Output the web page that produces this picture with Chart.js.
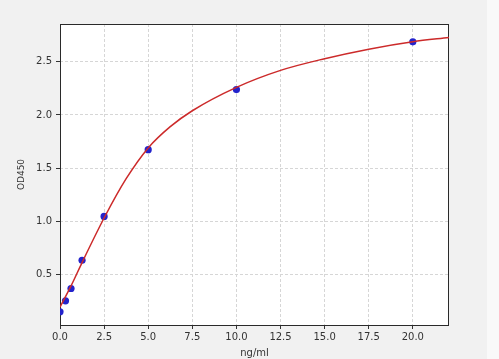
<!DOCTYPE html>
<html>
<head>
<meta charset="utf-8">
<script src="https://cdn.jsdelivr.net/npm/chart.js@4"></script>
<style>
    body { margin: 0; background: #f1f1f1; }
    canvas { display: block; }
</style>
</head>
<body>
<canvas id="curve-chart" width="499" height="359"></canvas>
<script>
// standard points (ng/ml, OD450)
const concentrations = [0, 0.3125, 0.625, 1.25, 2.5, 5, 10, 20];
const odValues = [0.147, 0.250, 0.366, 0.632, 1.045, 1.673, 2.239, 2.689];

// fitted curve
const curveX = [0, 0.625, 1.25, 2.5, 3.75, 5, 6.25, 7.5, 10, 12.5, 15, 17.5, 20, 22.05];
const curveY = [0.19, 0.39, 0.61, 1.03, 1.40, 1.69, 1.89, 2.04, 2.26, 2.42, 2.53, 2.62, 2.69, 2.73];

const xTicks = [0, 2.5, 5, 7.5, 10, 12.5, 15, 17.5, 20];
const yTicks = [0.5, 1.0, 1.5, 2.0, 2.5];

const FONT = "'DejaVu Sans', sans-serif";

// gray page, white plot box, dark frame
const frame = {
    id: "frame",
    beforeDraw(chart) {
        const ctx = chart.ctx;
        const a = chart.chartArea;
        ctx.save();
        ctx.fillStyle = "#f1f1f1";
        ctx.fillRect(0, 0, chart.width, chart.height);
        ctx.fillStyle = "#f9f9f9";
        ctx.fillRect(487, 0, chart.width - 487, chart.height);
        ctx.fillStyle = "#ffffff";
        ctx.fillRect(a.left, a.top, a.right - a.left, a.bottom - a.top);
        ctx.restore();
    },
    beforeDatasetsDraw(chart) {
        const ctx = chart.ctx;
        const a = chart.chartArea;
        ctx.save();
        ctx.strokeStyle = "#2a2a2a";
        ctx.lineWidth = 1;
        ctx.strokeRect(a.left + 0.5, a.top + 0.5, a.right - a.left - 1, a.bottom - a.top);
        ctx.restore();
    }
};

const points = concentrations.map((x, i) => ({x: x, y: odValues[i]}));
const curve = curveX.map((x, i) => ({x: x, y: curveY[i]}));

new Chart(document.querySelector("#curve-chart"), {
    type: "scatter",
    data: {
        datasets: [
            {
                data: curve,
                showLine: true,
                borderColor: "#cc2a2a",
                borderWidth: 1.5,
                pointRadius: 0,
                cubicInterpolationMode: "monotone",
                order: 0
            },
            {
                data: points,
                backgroundColor: "#2323cc",
                borderColor: "#2323cc",
                pointRadius: 3.6,
                borderWidth: 0,
                clip: 0,
                order: 1
            }
        ]
    },
    options: {
        responsive: false,
        animation: false,
        layout: {padding: {top: 24, right: 50, left: 0, bottom: 0}},
        plugins: {legend: {display: false}, tooltip: {enabled: false}},
        scales: {
            x: {
                type: "linear",
                min: 0,
                max: 22.05,
                afterBuildTicks: s => { s.ticks = xTicks.map(v => ({value: v})); },
                afterFit: s => { s.height = 34; },
                ticks: {
                    callback: v => v.toFixed(1),
                    font: {family: FONT, size: 10},
                    color: "#333",
                    padding: 2,
                    maxRotation: 0
                },
                grid: {color: "#d6d6d6", tickColor: "#333", tickLength: 4, tickBorderDash: []},
                border: {display: false, dash: [3, 2]},
                title: {display: true, text: "ng/ml", font: {family: FONT, size: 10}, color: "#333", padding: 0}
            },
            y: {
                type: "linear",
                min: 0.022,
                max: 2.857,
                afterBuildTicks: s => { s.ticks = yTicks.map(v => ({value: v})); },
                afterFit: s => { s.width = 60; },
                ticks: {
                    callback: v => v.toFixed(1),
                    font: {family: FONT, size: 10},
                    color: "#333",
                    padding: 4
                },
                grid: {color: "#d6d6d6", tickColor: "#333", tickLength: 4, tickBorderDash: []},
                border: {display: false, dash: [3, 2]},
                title: {display: true, text: "OD450", font: {family: FONT, size: 9}, color: "#333", padding: {top: 16, bottom: 0}}
            }
        }
    },
    plugins: [frame]
});
</script>
</body>
</html>
